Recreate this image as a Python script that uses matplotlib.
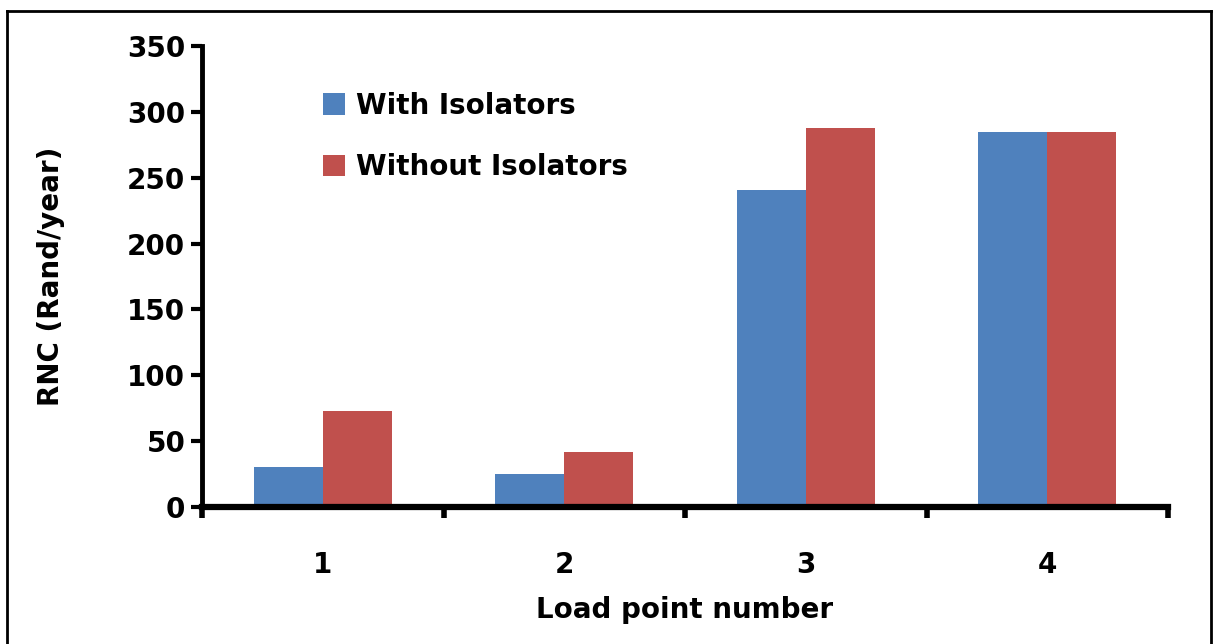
import matplotlib
matplotlib.use('Agg')
import matplotlib.pyplot as plt
import numpy as np
from matplotlib.lines import Line2D

plt.rcParams['font.family'] = ['DejaVu Sans']
plt.rcParams['font.weight'] = 'bold'

# data
load_points = ['1', '2', '3', '4']
with_isolators = [30, 25, 241, 285]
without_isolators = [73, 42, 288, 285]
series_names = ['With Isolators', 'Without Isolators']
colors = ['#4f81bd', '#c0504d']

W, H = 1214, 644
fig = plt.figure(figsize=(W / 100, H / 100), dpi=100)
ax = fig.add_axes([202 / W, 1 - 507 / H, 966 / W, 461 / H])

x = np.arange(len(load_points))
w = 0.285
ax.bar(x - w / 2, with_isolators, w, color=colors[0], label=series_names[0])
ax.bar(x + w / 2, without_isolators, w, color=colors[1], label=series_names[1])

ax.set_xlim(-0.5, len(load_points) - 0.5)
ax.set_ylim(0, 350)
ax.set_yticks(range(0, 351, 50))
ax.set_xticks(x)
ax.set_xticklabels(load_points)
# ticks between categories
ax.set_xticks(np.arange(-0.5, len(load_points), 1), minor=True)
ax.tick_params(axis='x', which='major', length=0, pad=32, labelsize=20)
ax.tick_params(axis='x', which='minor', length=8, width=4, direction='out')
ax.tick_params(axis='y', length=8, width=3, labelsize=20, pad=4)

for s in ['top', 'right']:
    ax.spines[s].set_visible(False)
ax.spines['left'].set_linewidth(3.5)
ax.spines['bottom'].set_linewidth(4.5)

ax.set_ylabel('RNC (Rand/year)', fontsize=20, fontweight='bold', labelpad=45)
ax.set_xlabel('Load point number', fontsize=20, fontweight='bold', labelpad=12)

ax.legend(loc='upper left', bbox_to_anchor=(0.099, 0.955), frameon=False,
          fontsize=20, handlelength=0.8, handleheight=0.8, handletextpad=0.4,
          labelspacing=1.2)

# outer frame (bottom edge lies outside the picture)
left, top, right = 6.5 / W, 1 - 11 / H, 1211 / W
for xs, ys in [([left, right], [top, top]),
               ([left, left], [top, -0.1]),
               ([right, right], [top, -0.1])]:
    fig.add_artist(Line2D(xs, ys, transform=fig.transFigure,
                          color='black', linewidth=2))

plt.savefig('out.png', dpi=100)
plt.close()
